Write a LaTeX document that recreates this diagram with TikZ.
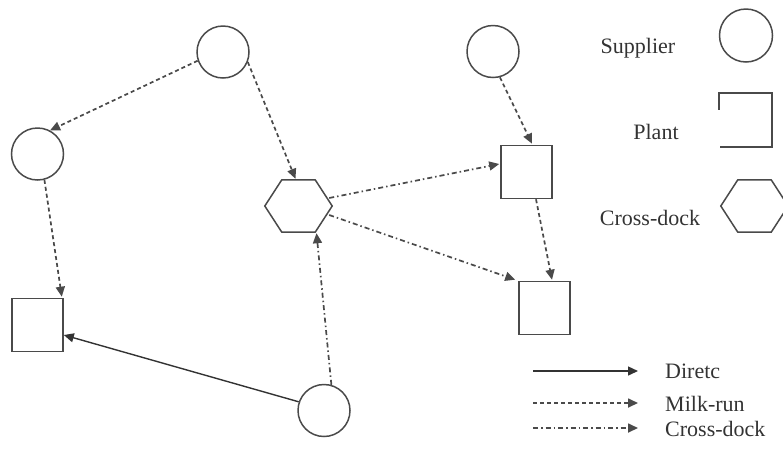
\documentclass[tikz,border=0pt]{standalone}
\usepackage{fontspec}
\setmainfont{Liberation Serif}
\usetikzlibrary{arrows.meta,calc}

\definecolor{edge}{HTML}{4A4A4A}
\definecolor{ink}{HTML}{333333}

\tikzset{
  supplier/.style={circle, draw=edge, line width=1.5pt, minimum size=52pt, inner sep=0pt},
  plant/.style={rectangle, draw=edge, line width=1.6pt, minimum width=51pt, minimum height=53pt, inner sep=0pt},
  hexframe/.style={rectangle, draw=none, minimum width=67pt, minimum height=52pt, inner sep=0pt},
  hexline/.style={draw=edge, line width=1.5pt, line join=miter},
  tip/.style={-{Triangle[length=10pt,width=9pt]}},
  direct/.style={tip, draw=ink, line width=1.4pt},
  milkrun/.style={tip, draw=edge, line width=1.7pt, dash pattern=on 4pt off 3pt},
  xdock/.style={tip, draw=edge, line width=1.7pt, dash pattern=on 5pt off 3pt on 1.5pt off 3pt},
  label/.style={font=\fontsize{22}{26}\selectfont, text=ink, inner sep=0pt},
}

\begin{document}
\begin{tikzpicture}[x=1pt,y=-1pt]
\useasboundingbox (0,0) rectangle (783,451);

% suppliers
\node[supplier] (S1) at (223,52) {};
\node[supplier] (S2) at (37.5,154) {};
\node[supplier] (S3) at (493,51.5) {};
\node[supplier] (S4) at (324,410.5) {};

% plants
\node[plant] (P1) at (37.5,325) {};
\node[plant] (P2) at (526.5,172) {};
\node[plant] (P3) at (544.5,308) {};

% cross-dock hexagon
\node[hexframe] (H1) at (298.5,206) {};
\draw[hexline] (H1.west) -- ($(H1.north west)+(17,0)$) -- ($(H1.north east)+(-17,0)$)
  -- (H1.east) -- ($(H1.south east)+(-17,0)$) -- ($(H1.south west)+(17,0)$) -- cycle;

% milk-run flows
\draw[milkrun] (S1.199) -- (S2.62);
\draw[milkrun] (S1.338) -- ($(H1.north)+(-3,-1)$);
\draw[milkrun] (S2.285) -- ($(P1.north east)+(-2,-1)$);
\draw[milkrun] (S3.285) -- ($(P2.north)+(5.5,-1)$);
\draw[milkrun] ($(P2.south)+(9.5,0)$) -- ($(P3.north)+(7.5,-1)$);

% cross-dock flows
\draw[xdock] (S4.74) -- ($(H1.south)+(18,1)$);
\draw[xdock] ($(H1.east)+(-3,-8)$) -- ($(P2.west)+(-1,-8)$);
\draw[xdock] ($(H1.east)+(-3,9)$) -- ($(P3.north west)+(-3,-1)$);

% direct flow
\draw[direct] (S4.161) -- ($(P1.east)+(0,10)$);

% legend: node types
\node[label, anchor=base] (Lsup) at (638,53) {Supplier};
\node[supplier, minimum size=53pt] (LC) at (746,35.5) {};

\node[label, anchor=base] (Lpla) at (656,139) {Plant};
\node[hexframe, minimum width=53pt, minimum height=54pt] (LP) at (745.5,120) {};
\draw[hexline] ($(LP.north west)+(0,17)$) -- (LP.north west) -- (LP.north east)
  -- (LP.south east) -- ($(LP.south west)+(1,0)$);

\node[label, anchor=base] (Lhex) at (650,225) {Cross-dock};
\node[hexframe] (LH) at (754.5,206) {};
\begin{scope}
  \clip (0,0) rectangle (783,451);
  \draw[hexline] (LH.west) -- ($(LH.north west)+(17,0)$) -- ($(LH.north east)+(-17,0)$)
    -- (LH.east) -- ($(LH.south east)+(-17,0)$) -- ($(LH.south west)+(17,0)$) -- cycle;
\end{scope}

% legend: flow types
\coordinate (a1) at (533,371);
\coordinate (b1) at (638,371);
\coordinate (a2) at (533,403);
\coordinate (b2) at (638,403);
\coordinate (a3) at (533,428);
\coordinate (b3) at (638,428);
\draw[direct] (a1) -- (b1);
\draw[milkrun] (a2) -- (b2);
\draw[xdock] (a3) -- (b3);
\node[label, anchor=base west] (Ldir) at (665,378) {Diretc};
\node[label, anchor=base west] (Lmil) at (665,411) {Milk-run};
\node[label, anchor=base west] (Lxd) at (665,436) {Cross-dock};
\end{tikzpicture}
\end{document}
